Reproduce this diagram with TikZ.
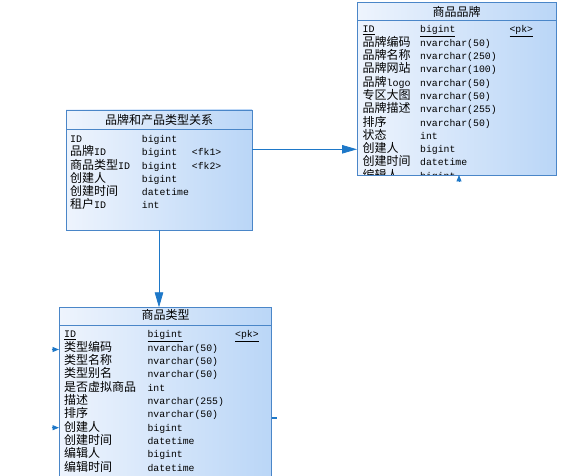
\documentclass[tikz,border=0pt]{standalone}
\usepackage{fontspec}
\setmainfont{Liberation Mono}
\newfontfamily\cjk{Noto Sans CJK SC}
\usetikzlibrary{arrows.meta,calc}
\definecolor{bd}{RGB}{74,134,200}
\definecolor{lb}{RGB}{186,214,247}
\definecolor{wb}{RGB}{238,244,253}
\definecolor{ar}{RGB}{30,120,200}
\newcommand\lat[1]{{\rmfamily\fontsize{10}{10}\selectfont #1}}
\tikzset{
  tbl/.style={rectangle, draw=bd, line width=0.9pt, left color=wb, right color=lb, inner sep=0pt, outer sep=0pt},
  seprule/.style={draw=bd, line width=0.9pt},
  ttl/.style={font=\cjk\fontsize{12}{12}\selectfont, inner sep=0pt, anchor=base},
  fname/.style={font=\cjk\fontsize{12}{12}\selectfont, inner sep=0pt, anchor=base west},
  ftype/.style={font=\rmfamily\fontsize{9.8}{10}\selectfont, inner sep=0pt, anchor=base west},
  conn/.style={draw=ar, line width=0.8pt, -{Triangle[length=15pt,width=8.5pt]}},
  stubarrow/.style={draw=ar, line width=0.8pt, -{Triangle[length=6.5pt,width=5pt]}},
  stubline/.style={draw=ar, line width=1.6pt},
}
\begin{document}
\begin{tikzpicture}[x=1pt,y=-1pt]
\useasboundingbox (0,0) rectangle (571,476);
\clip (0,0) rectangle (571,476);

% tables
\node[tbl, minimum width=199pt, minimum height=172.3pt] (brand) at (456.5,88.85) {};
\node[tbl, minimum width=186pt, minimum height=120pt] (rel) at (159,170) {};
\node[tbl, minimum width=212.7pt, minimum height=183pt] (ptype) at (165.35,398.8) {};

\draw[seprule] ($(brand.north west)+(0,18)$) -- ($(brand.north east)+(0,18)$);
\draw[seprule] ($(rel.north west)+(0,19)$) -- ($(rel.north east)+(0,19)$);
\draw[seprule] ($(ptype.north west)+(0,17.7)$) -- ($(ptype.north east)+(0,17.7)$);

% titles
\node[ttl] (brandt) at (456.5,16.2) {商品品牌};
\node[ttl] (relt) at (159,124.5) {品牌和产品类型关系};
\node[ttl] (ptypet) at (165.5,319.5) {商品类型};

% brand rows
\begin{scope}
\clip (brand.north west) rectangle (brand.south east);
\node[fname] (bn1) at (362.3,33) {\underline{\lat{ID}}};
\node[ftype] (bt1) at (420,33) {\underline{bigint}};
\node[ftype] (bk1) at (509.3,33) {\underline{<pk>}};
\foreach \n/\t [count=\i from 2] in {品牌编码/nvarchar(50), 品牌名称/nvarchar(250), 品牌网站/nvarchar(100), 品牌\lat{logo}/nvarchar(50), 专区大图/nvarchar(50), 品牌描述/nvarchar(255), 排序/nvarchar(50), 状态/int, 创建人/bigint, 创建时间/datetime, 编辑人/bigint}{
  \node[fname] (bn\i) at (362.3,{33+13.3*(\i-1)}) {\n};
  \node[ftype] (bt\i) at (420,{33+13.3*(\i-1)}) {\t};
}
\end{scope}

% relation rows
\foreach \n/\t [count=\i from 1] in {\lat{ID}/bigint, 品牌\lat{ID}/bigint, 商品类型\lat{ID}/bigint, 创建人/bigint, 创建时间/datetime, 租户\lat{ID}/int}{
  \node[fname] (rn\i) at (70,{142.8+13.2*(\i-1)}) {\n};
  \node[ftype] (rt\i) at (141.7,{142.8+13.2*(\i-1)}) {\t};
}
\node[ftype] (rk2) at (191.7,156) {<fk1>};
\node[ftype] (rk3) at (191.7,169.2) {<fk2>};

% product type rows
\node[fname] (pn1) at (64,337.8) {\underline{\lat{ID}}};
\node[ftype] (pt1) at (147.3,337.8) {\underline{bigint}};
\node[ftype] (pk1) at (235,337.8) {\underline{<pk>}};
\foreach \n/\t [count=\i from 2] in {类型编码/nvarchar(50), 类型名称/nvarchar(50), 类型别名/nvarchar(50), 是否虚拟商品/int, 描述/nvarchar(255), 排序/nvarchar(50), 创建人/bigint, 创建时间/datetime, 编辑人/bigint, 编辑时间/datetime}{
  \node[fname] (pn\i) at (64,{337.8+13.33*(\i-1)}) {\n};
  \node[ftype] (pt\i) at (147.3,{337.8+13.33*(\i-1)}) {\t};
}

% connectors
\coordinate (h) at (0,149.3);
\draw[conn] (rel.east |- h) -- (brand.west |- h);
\draw[conn] (rel.south) -- (rel.south |- ptype.north);

% partial connectors
\coordinate (s1) at (51.5,349.5);
\coordinate (s2) at (51.5,427.7);
\draw[stubarrow] (s1) -- (ptype.west |- s1);
\draw[stubarrow] (s2) -- (ptype.west |- s2);
\coordinate (s3) at (459,182);
\draw[stubarrow] (s3) -- (s3 |- brand.south);
\coordinate (s4) at (276.5,418);
\draw[stubline] (ptype.east |- s4) -- (s4);
\end{tikzpicture}
\end{document}
